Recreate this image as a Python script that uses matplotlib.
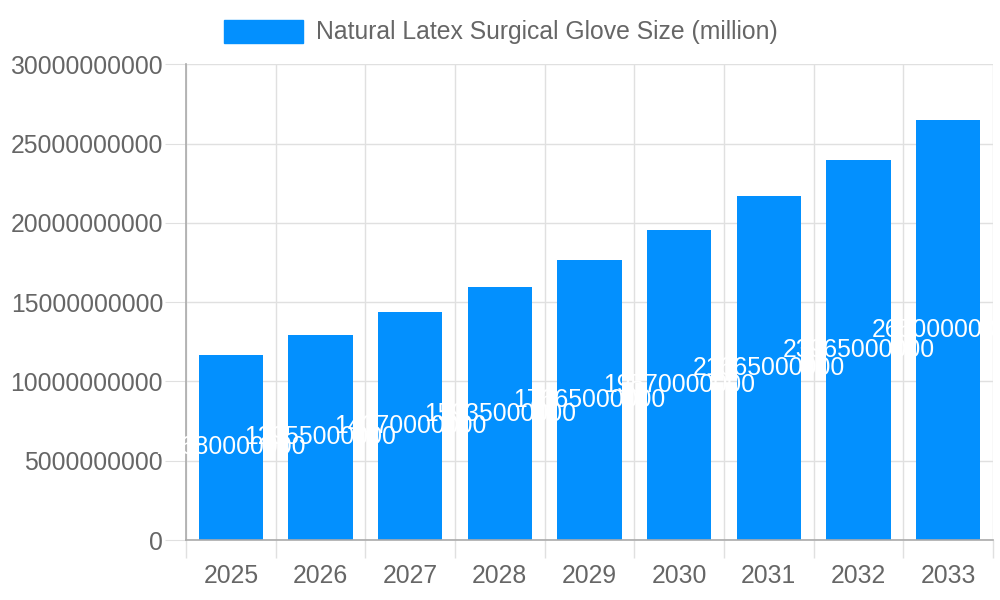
import matplotlib
matplotlib.use("Agg")
import matplotlib.pyplot as plt
from matplotlib.patches import Rectangle

years = ["2025", "2026", "2027", "2028", "2029", "2030", "2031", "2032", "2033"]
values = [11680000000, 12955000000, 14370000000, 15935000000, 17665000000,
          19570000000, 21665000000, 23965000000, 26500000000]
yticks = [0, 5000000000, 10000000000, 15000000000, 20000000000, 25000000000, 30000000000]
series_name = "Natural Latex Surgical Glove Size (million)"

BAR = "#0390fe"
TXT = "#666666"
GRID = "#e0e0e0"
AX = "#aaaaaa"
FS = 17.8

plt.rcParams['font.family'] = ['Liberation Sans', 'DejaVu Sans']

fig = plt.figure(figsize=(10, 6), dpi=100)
ax = fig.add_axes([0.186, 0.10, 0.807, 0.793])

x = list(range(len(years)))
ax.bar(x, values, width=0.72, color=BAR, zorder=2)
ax.set_xlim(-0.5, len(years) - 0.5)
ax.set_ylim(0, 30000000000)
ax.set_yticks(yticks)
ax.set_yticklabels([str(v) for v in yticks])
ax.set_xticks(x)
ax.set_xticklabels(years)
ax.set_xticks([i - 0.5 for i in range(len(years) + 1)], minor=True)

ax.grid(False)
for yv in yticks:
    ax.axhline(yv, color=GRID, lw=1, zorder=0)
for xv in [i - 0.5 for i in range(len(years) + 1)]:
    ax.axvline(xv, color=GRID, lw=1, zorder=0)

for s in ['top', 'right']:
    ax.spines[s].set_visible(False)
for s in ['left', 'bottom']:
    ax.spines[s].set_color(AX)
    ax.spines[s].set_linewidth(1.2)
    ax.spines[s].set_zorder(3)

ax.tick_params(axis='y', which='major', length=15, color=GRID, labelsize=FS, labelcolor=TXT, pad=1.5)
ax.tick_params(axis='x', which='major', length=0, labelsize=FS, labelcolor=TXT, pad=17)
ax.tick_params(axis='x', which='minor', length=13, color=GRID, width=1)

for xi, v in zip(x, values):
    ax.text(xi, v / 2, str(v), ha='center', va='center', color='white',
            fontsize=FS, zorder=4, clip_on=False)

# legend
fig.patches.append(Rectangle((224 / 1000, 1 - 43 / 600), 79 / 1000, 23 / 600,
                             transform=fig.transFigure, color=BAR, figure=fig))
fig.text(316 / 1000, 1 - 32 / 600, series_name, ha='left', va='center',
         color=TXT, fontsize=FS)

fig.savefig("out.png", dpi=100)
